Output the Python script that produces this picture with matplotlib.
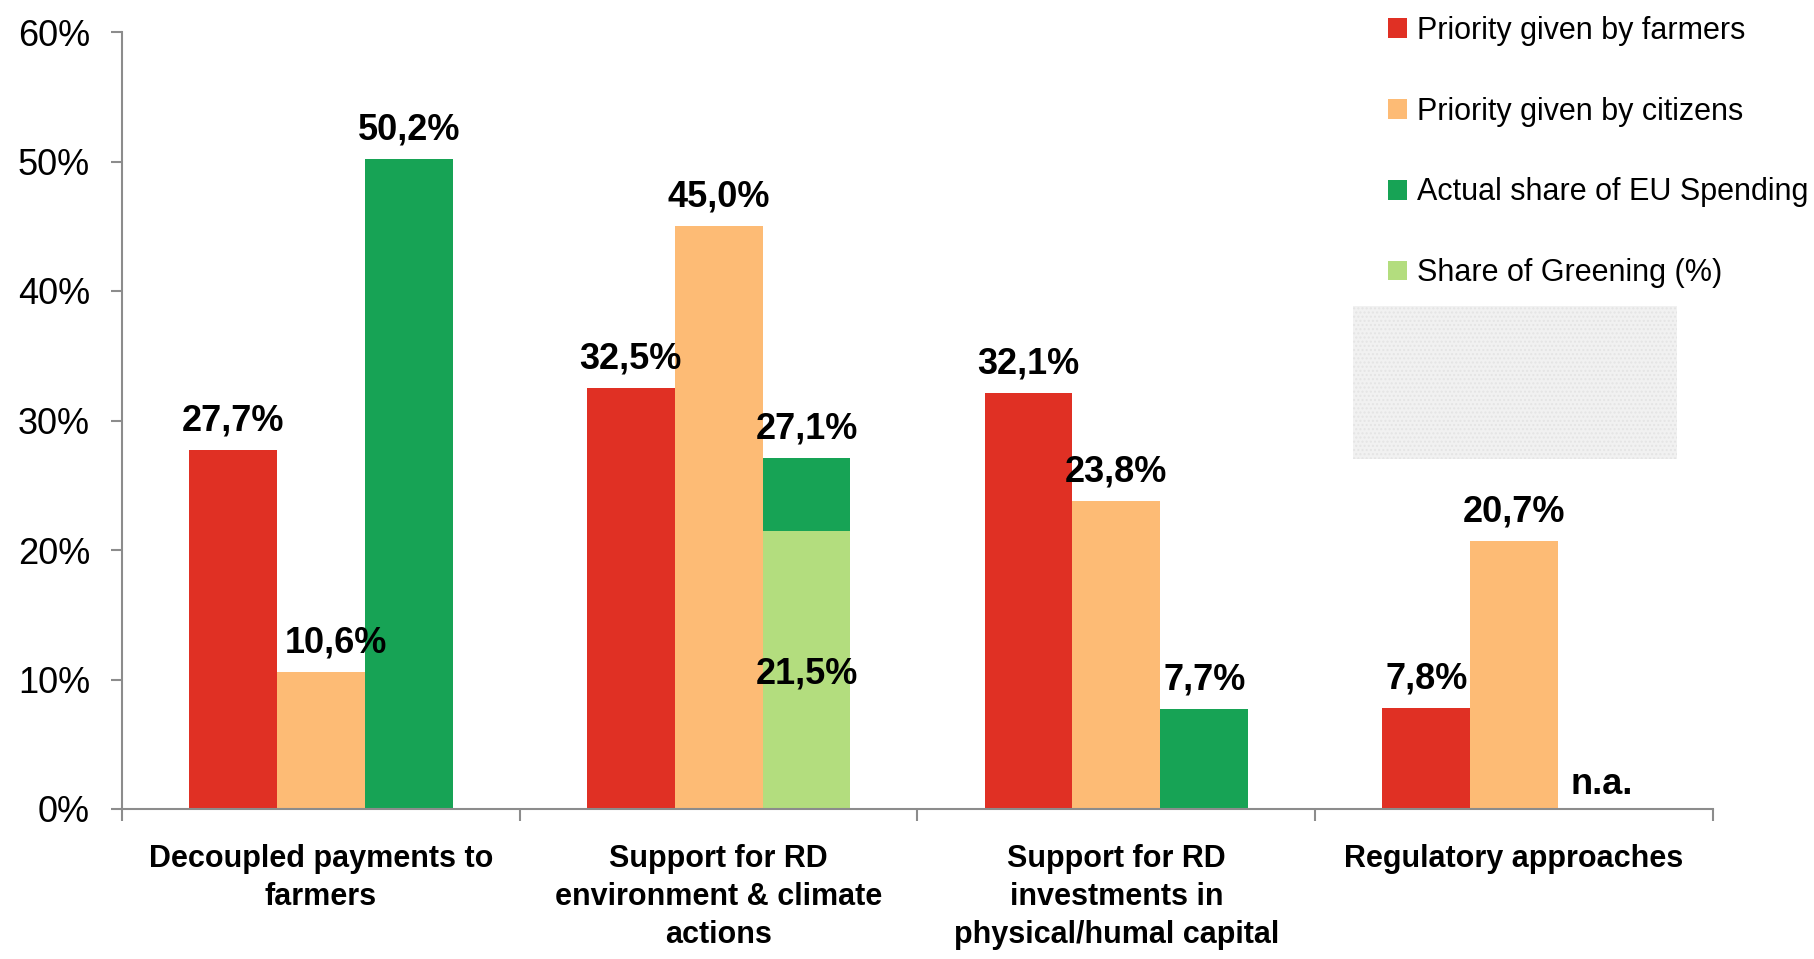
import numpy as np
import matplotlib
matplotlib.use("Agg")
import matplotlib.pyplot as plt
from matplotlib.patches import Rectangle

plt.rcParams['font.family'] = ['Liberation Sans', 'DejaVu Sans']

# data (in %)
categories = ['Decoupled payments to\nfarmers',
              'Support for RD\nenvironment & climate\nactions',
              'Support for RD\ninvestments in\nphysical/humal capital',
              'Regulatory approaches']
farmers = [27.7, 32.5, 32.1, 7.8]
citizens = [10.6, 45.0, 23.8, 20.7]
eu_spending = [50.2, 27.1, 7.7, np.nan]
greening = [np.nan, 21.5, np.nan, np.nan]
series_names = ['Priority given by farmers', 'Priority given by citizens',
                'Actual share of EU Spending', 'Share of Greening (%)']
yticks = [0, 10, 20, 30, 40, 50, 60]

RED = '#E03024'
ORANGE = '#FDBB75'
GREEN = '#17A355'
LIGHTGREEN = '#B3DD7E'
AXCOL = '#8c8c8c'

def fmt(v):
    return f"{v:.1f}".replace('.', ',') + '%'

fig = plt.figure(figsize=(18.15, 9.59), dpi=100)
ax = fig.add_axes([122/1815, 1 - 809/959, (1713 - 122)/1815, (809 - 32)/959])

x = np.arange(len(categories))
w = 0.221

b1 = ax.bar(x - w, farmers, w, color=RED, label=series_names[0])
b2 = ax.bar(x, citizens, w, color=ORANGE, label=series_names[1])
b3 = ax.bar(x + w, eu_spending, w, color=GREEN, label=series_names[2])
b4 = ax.bar(x + w, greening, w, color=LIGHTGREEN, label=series_names[3])

# value labels above bars
lab_kw = dict(textcoords='offset points', ha='center', va='baseline',
              fontsize=26, fontweight='bold')
for xs, vals in ((x - w, farmers), (x, citizens), (x + w, eu_spending)):
    for xi, v in zip(xs, vals):
        if np.isnan(v):
            ax.annotate('n.a.', (xi, 0), xytext=(0, 11), **lab_kw)
            continue
        dx = 11 if (vals is citizens and xi == 0) else 0
        ax.annotate(fmt(v), (xi, v), xytext=(dx, 14), **lab_kw)
# greening label sits inside its bar
for xi, v in zip(x + w, greening):
    if not np.isnan(v):
        ax.annotate(fmt(v), (xi, v * 0.45), xytext=(0, 0), **lab_kw)

ax.set_xlim(-0.5, len(categories) - 0.5)
ax.set_ylim(0, 60)
ax.set_yticks(yticks)
ax.set_yticklabels([f"{t}%" for t in yticks], fontsize=26)

# category boundaries as major ticks, labels on minor ticks
ax.set_xticks(np.arange(-0.5, len(categories), 1.0))
ax.set_xticklabels([])
ax.set_xticks(x, minor=True)
ax.set_xticklabels(categories, minor=True, fontsize=22, fontweight='bold',
                   linespacing=1.36)
ax.tick_params(axis='x', which='minor', length=0, pad=25)
ax.tick_params(axis='x', which='major', length=8.5, width=1.5, color=AXCOL,
               direction='out')
ax.tick_params(axis='y', length=8, width=1.5, color=AXCOL, pad=15)

for s in ('top', 'right'):
    ax.spines[s].set_visible(False)
for s in ('left', 'bottom'):
    ax.spines[s].set_color(AXCOL)
    ax.spines[s].set_linewidth(1.5)

fig.legend(handles=[b1, b2, b3, b4], loc='upper left',
           bbox_to_anchor=(1388/1815, 1 - 16/959), frameon=False,
           fontsize=22, borderpad=0, borderaxespad=0,
           handlelength=0.62, handleheight=0.62, handletextpad=0.33,
           labelspacing=1.66)

# light textured box under the legend
fig.patches.append(Rectangle((1353/1815, 1 - 459/959), 324/1815, 153/959,
                             transform=fig.transFigure, facecolor='#f1f1f1',
                             edgecolor='#e4e4e4', hatch='....', linewidth=0,
                             zorder=0))

fig.savefig('out.png', dpi=100)
